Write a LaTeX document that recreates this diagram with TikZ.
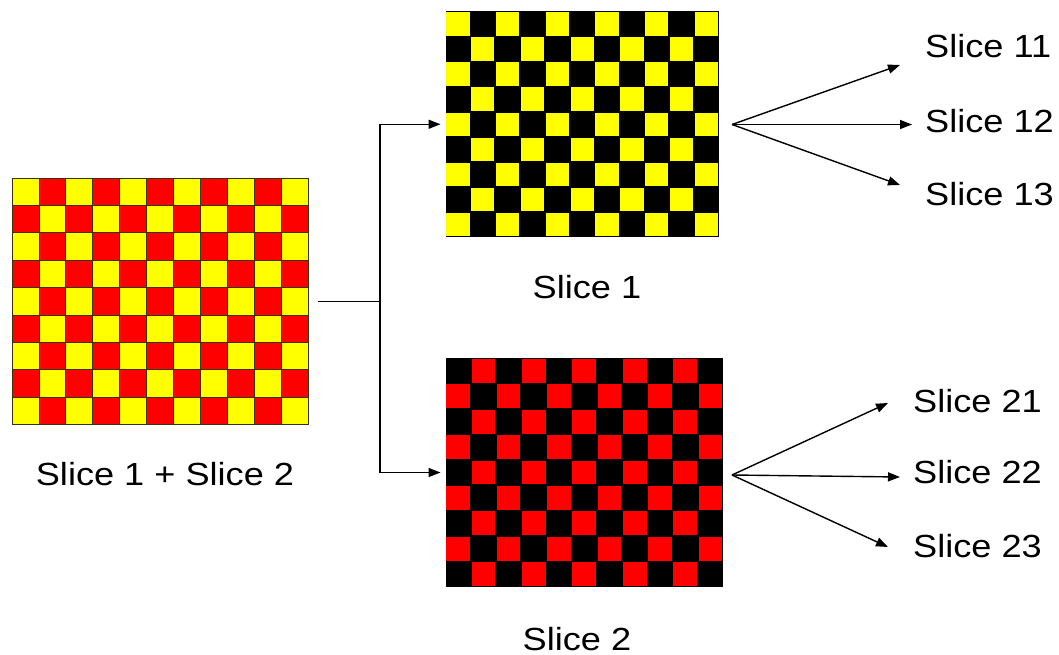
\documentclass[tikz,border=0pt]{standalone}
\usepackage{fontspec}
\setmainfont{Liberation Sans}[FakeStretch=1.13]
\usetikzlibrary{arrows.meta}
\definecolor{yy}{RGB}{255,255,0}
\definecolor{rr}{RGB}{255,0,0}
\definecolor{cellline}{RGB}{60,50,10}
\begin{document}
\begin{tikzpicture}[x=1pt,y=-1pt,
  lbl/.style={inner sep=0pt, font=\fontsize{32}{38}\selectfont},
  conn/.style={line width=1.4pt, -{Triangle[length=12pt,width=9pt]}},
  plain/.style={line width=1.4pt},
  board/.style={inner sep=0pt, outer sep=0pt, anchor=north west}]
\useasboundingbox[fill=white] (0,0) rectangle (1059,655);

% --- combined board (yellow/red) ---
\foreach \r in {0,...,8} \foreach \c in {0,...,10} {
  \pgfmathtruncatemacro\p{mod(\r+\c,2)}
  \ifnum\p=0 \def\col{yy}\else\def\col{rr}\fi
  \filldraw[fill=\col, draw=cellline, line width=0.8pt]
    (12+\c*26.9, 178+\r*27.4) rectangle ++(26.9,27.4);
}
\node[board, minimum width=296pt, minimum height=247pt] (A) at (12,178) {};

% --- slice 1 board (yellow/black) ---
\fill[black] (445.5,11.5) rectangle (719,237);
\foreach \r in {0,...,8} \foreach \c in {0,...,10} {
  \pgfmathtruncatemacro\p{mod(\r+\c,2)}
  \ifnum\p=0
    \fill[yy] (445.5+\c*24.86+0.8, 11.5+\r*25.06+0.8) rectangle ++(23.26,23.46);
  \fi
}
\node[board, minimum width=273.5pt, minimum height=225.5pt] (B) at (445.5,11.5) {};

% --- slice 2 board (red/black) ---
\fill[black] (445.5,358) rectangle (723,587);
\foreach \r in {0,...,8} \foreach \c in {0,...,10} {
  \pgfmathtruncatemacro\p{mod(\r+\c,2)}
  \ifnum\p=1
    \fill[rr] (445.5+\c*25.23+0.8, 358+\r*25.44+0.8) rectangle ++(23.63,23.84);
  \fi
}
\node[board, minimum width=277.5pt, minimum height=229pt] (C) at (445.5,358) {};

% --- labels ---
\node[lbl, anchor=base] (labA) at (165,485) {Slice 1 + Slice 2};
\node[lbl, anchor=base] (labB) at (587,298) {Slice 1};
\node[lbl, anchor=base] (labC) at (577,650) {Slice 2};
\node[lbl, anchor=base west] (l11) at (925,58) {Slice 11};
\node[lbl, anchor=base west] (l12) at (925,133) {Slice 12};
\node[lbl, anchor=base west] (l13) at (925,205) {Slice 13};
\node[lbl, anchor=base west] (l21) at (913,412) {Slice 21};
\node[lbl, anchor=base west] (l22) at (913,483) {Slice 22};
\node[lbl, anchor=base west] (l23) at (913,557) {Slice 23};

% --- splitting connector ---
\coordinate (split) at (380,301.5);
\draw[plain, shorten <=10pt] (A.east) -- (split);
\draw[conn, shorten >=5pt] (split) |- (B.west);
\draw[conn, shorten >=5pt] (split) |- (C.west);

% --- fan-outs ---
\coordinate (oB) at (732,124.5);
\coordinate (t11) at (900,65);
\coordinate (t12) at (912,124.5);
\coordinate (t13) at (900,185);
\draw[conn] (oB) -- (t11);
\draw[conn] (oB) -- (t12);
\draw[conn] (oB) -- (t13);

\coordinate (oC) at (732,475);
\coordinate (t21) at (888,403);
\coordinate (t22) at (900,477);
\coordinate (t23) at (888,547);
\draw[conn] (oC) -- (t21);
\draw[conn] (oC) -- (t22);
\draw[conn] (oC) -- (t23);
\end{tikzpicture}
\end{document}
